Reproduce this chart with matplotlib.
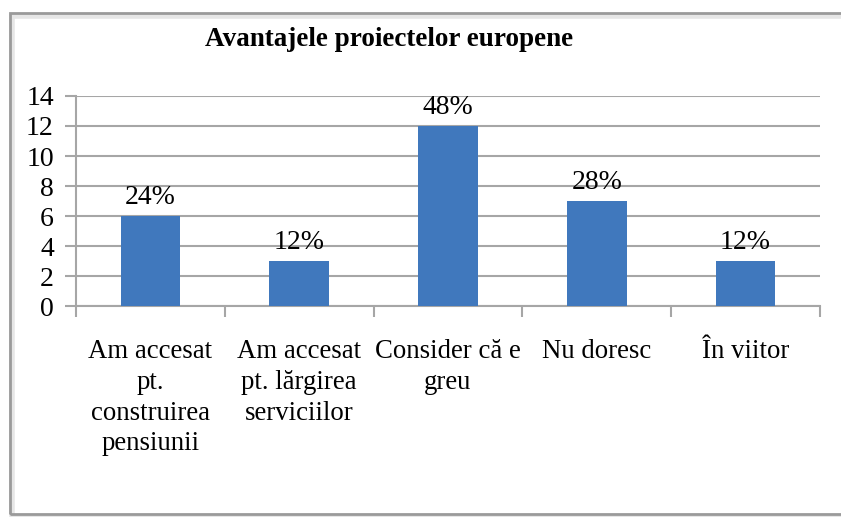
import matplotlib
matplotlib.use("Agg")
import matplotlib.pyplot as plt
from matplotlib.patches import Rectangle

categories = ["Am accesat\npt.\nconstruirea\npensiunii",
              "Am accesat\npt. lărgirea\nserviciilor",
              "Consider că e\ngreu",
              "Nu doresc",
              "În viitor"]
values = [6, 3, 12, 7, 3]
pct_labels = ["24%", "12%", "48%", "28%", "12%"]
yticks = [0, 2, 4, 6, 8, 10, 12, 14]
title = "Avantajele proiectelor europene"

plt.rcParams['font.family'] = ['Liberation Serif', 'DejaVu Serif']

W, H = 841, 517
fig = plt.figure(figsize=(W / 100, H / 100), dpi=100)
fig.patch.set_facecolor('white')

# outer frame with soft shadow
fig.patches.append(Rectangle((12 / W, 1 - 517 / H), (845 - 12) / W, (517 - 16) / H,
                             transform=fig.transFigure, fill=False,
                             edgecolor='#e6e6e6', linewidth=4, zorder=0))
fig.patches.append(Rectangle((10 / W, 1 - 514 / H), (842 - 10) / W, (514 - 13) / H,
                             transform=fig.transFigure, fill=False,
                             edgecolor='#9a9a9a', linewidth=2, zorder=1))

ax = fig.add_axes([76 / W, 1 - 306 / H, (820 - 76) / W, (306 - 96) / H])
x = list(range(len(categories)))
bars = ax.bar(x, values, width=0.4, color='#4078bd', zorder=3)

ax.set_xlim(-0.5, len(categories) - 0.5)
ax.set_ylim(0, 14)
ax.set_yticks(yticks)
ax.set_yticklabels([str(v) for v in yticks], fontsize=20)
ax.yaxis.grid(True, color='#a6a6a6', linewidth=1.5, zorder=0)
ax.set_axisbelow(True)

ax.set_xticks([i - 0.5 for i in range(len(categories) + 1)])
ax.set_xticklabels([])
ax.set_xticks(x, minor=True)
ax.set_xticklabels(categories, minor=True, fontsize=19.3, linespacing=1.3)
ax.tick_params(axis='x', which='major', length=8, width=1.5, color='#a6a6a6', direction='out')
ax.tick_params(axis='x', which='minor', length=0, pad=24)
ax.tick_params(axis='y', length=8, width=1.5, color='#a6a6a6', direction='out', pad=8)

for s in ['top', 'right']:
    ax.spines[s].set_visible(False)
for s in ['left', 'bottom']:
    ax.spines[s].set_color('#a6a6a6')
    ax.spines[s].set_linewidth(1.5)

for b, lab in zip(bars, pct_labels):
    ax.annotate(lab, (b.get_x() + b.get_width() / 2, b.get_height()),
                xytext=(0, 4), textcoords='offset points',
                ha='center', va='bottom', fontsize=20)

fig.text(389 / W, 1 - 40 / H, title, ha='center', va='center',
         fontsize=19.5, fontweight='bold')

fig.savefig('out.png', dpi=100)
